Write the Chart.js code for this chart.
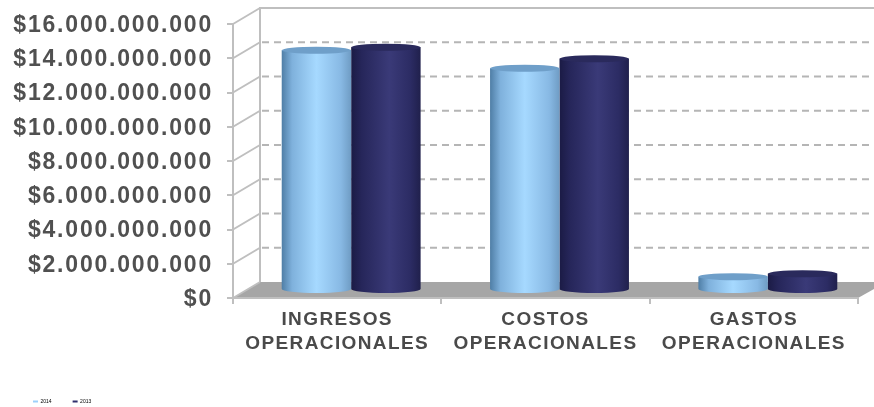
<!DOCTYPE html>
<html>
<head>
<meta charset="utf-8">
<style>html,body{margin:0;padding:0;background:#fff}canvas{display:block}</style>
<script src="https://cdn.jsdelivr.net/npm/chart.js@4"></script>
</head>
<body>
<canvas id="c" width="874" height="407"></canvas>
<script>
const categories = [["INGRESOS","OPERACIONALES"],["COSTOS","OPERACIONALES"],["GASTOS","OPERACIONALES"]];
const seriesNames = ["2014","2013"];
const values2014 = [14000000000,12950000000,780000000];
const values2013 = [14170000000,13500000000,950000000];
const lightStops = [[0,"#4f7ea6"],[0.15,"#7fb1dc"],[0.5,"#a6d9ff"],[0.85,"#88b9e4"],[1,"#6f9cc4"]];
const darkStops = [[0,"#1b1b45"],[0.15,"#26265a"],[0.55,"#3a3a78"],[0.85,"#2c2c64"],[1,"#20204c"]];
const topColors = ["#6f9fc9","#2a2a5c"];
const legendColors = ["#9dd0fa","#2f2f6c"];
const DX = 27, DY = 16, OX = 14, OY = 8, RY = 4, RT = 3.5;
const WALL = "#bfbfbf", FLOOR = "#a6a6a6";

function grad(ctx, l, r, stops){
  const g = ctx.createLinearGradient(l,0,r,0);
  stops.forEach(s => g.addColorStop(s[0], s[1]));
  return g;
}
function barFill(stops, side){
  return c => {
    const x = c.chart.scales.x;
    if(!x || !c.chart.chartArea) return stops[2][1];
    const w = (x.right-x.left)/categories.length*0.6667/2;
    const cx = x.getPixelForValue(c.dataIndex);
    const l = side===0 ? cx-w : cx;
    return grad(c.chart.ctx, l, l+w, stops);
  };
}
const scene = {
  id:"scene",
  afterLayout(chart){
    if(chart.legend && !chart.legend._shifted){ chart.legend.top += 7; chart.legend.bottom += 7; chart.legend._shifted = true; }
    [["y","1.8px",1.5],["x","1.4px",0]].forEach(([id,sp,dy])=>{
      const s = chart.scales[id];
      if(s && !s._wrapped){
        const orig = s.drawLabels.bind(s);
        s.drawLabels = a => { const c = chart.ctx; c.save(); c.letterSpacing = sp; c.translate(0,dy); orig(a); c.restore(); };
        s._wrapped = true;
      }
    });
  },
  beforeDraw(chart){
    const {ctx, chartArea:a, scales:{y}} = chart;
    const W = chart.width;
    ctx.save();
    // floor
    ctx.fillStyle = FLOOR;
    ctx.beginPath();
    ctx.moveTo(a.left,a.bottom);
    ctx.lineTo(a.left+DX,a.bottom-DY);
    ctx.lineTo(W,a.bottom-DY);
    ctx.lineTo(W,a.bottom-DY+7);
    ctx.lineTo(a.right,a.bottom);
    ctx.closePath();
    ctx.fill();
    // dashed back wall lines
    ctx.strokeStyle = "#b5b5b5"; ctx.lineWidth = 2; ctx.setLineDash([7,5]);
    y.ticks.forEach(t=>{
      if(t.value===0 || t.value===y.max) return;
      const p = y.getPixelForValue(t.value)-DY;
      ctx.beginPath(); ctx.moveTo(a.left+DX+2,p); ctx.lineTo(W,p); ctx.stroke();
    });
    ctx.setLineDash([]);
    // side wall diagonals and back wall frame
    ctx.strokeStyle = WALL;
    y.ticks.forEach(t=>{
      const p = y.getPixelForValue(t.value);
      ctx.beginPath(); ctx.moveTo(a.left,p); ctx.lineTo(a.left+DX,p-DY); ctx.stroke();
    });
    ctx.beginPath();
    ctx.moveTo(a.left+DX,a.bottom-DY); ctx.lineTo(a.left+DX,a.top-DY); ctx.lineTo(W,a.top-DY);
    ctx.stroke();
    ctx.restore();
  },
  beforeDatasetsDraw(chart){
    chart.ctx.save();
    chart.ctx.translate(OX,-OY);
  },
  afterDatasetsDraw(chart){
    const ctx = chart.ctx;
    [0,1].forEach(i=>{
      const stops = i===0 ? lightStops : darkStops;
      chart.getDatasetMeta(i).data.forEach(el=>{
        const w = el.width/2;
        ctx.fillStyle = grad(ctx, el.x-w, el.x+w, stops);
        ctx.beginPath();
        ctx.ellipse(el.x, el.base, w, RY, 0, 0, Math.PI);
        ctx.fill();
        ctx.fillStyle = topColors[i];
        ctx.beginPath();
        ctx.ellipse(el.x, el.y, w, RT, 0, 0, Math.PI*2);
        ctx.fill();
      });
    });
    ctx.restore();
  }
};
new Chart(document.getElementById("c"),{
  type:"bar",
  data:{
    labels:categories,
    datasets:[
      {label:seriesNames[0],data:values2014,backgroundColor:barFill(lightStops,0),clip:false},
      {label:seriesNames[1],data:values2013,backgroundColor:barFill(darkStops,1),clip:false}
    ]
  },
  plugins:[scene],
  options:{
    responsive:false,
    animation:false,
    devicePixelRatio:1,
    layout:{padding:{left:12,right:16,top:24,bottom:0}},
    datasets:{bar:{barPercentage:1,categoryPercentage:0.6667,borderWidth:0}},
    plugins:{
      tooltip:{enabled:false},
      legend:{
        position:"bottom",
        align:"start",
        onClick:null,
        labels:{
          boxWidth:5,boxHeight:2,padding:21,color:"#595959",
          font:{family:"Liberation Sans",size:5},
          generateLabels:()=>seriesNames.map((n,i)=>({text:n,fillStyle:legendColors[i],strokeStyle:legendColors[i],lineWidth:0,datasetIndex:i}))
        }
      }
    },
    scales:{
      x:{
        grid:{drawOnChartArea:false,color:WALL,tickLength:6,tickColor:WALL,lineWidth:2,offset:true},
        border:{color:WALL,width:2},
        ticks:{color:"#4a4a4a",padding:4,maxRotation:0,autoSkip:false,font:{family:"Liberation Sans",size:19,weight:"bold",lineHeight:1.26}},
        afterFit(s){s.height=73;}
      },
      y:{
        min:0,max:16000000000,
        grid:{drawOnChartArea:false,color:WALL,tickLength:6,tickColor:WALL,lineWidth:2},
        border:{color:WALL,width:2},
        ticks:{
          stepSize:2000000000,color:"#505050",padding:14,
          font:{family:"Liberation Sans",size:23,weight:"bold"},
          callback:v=>"$"+String(Math.round(v)).replace(/\B(?=(\d{3})+$)/g,".")
        },
        afterFit(s){s.width=221;s.paddingTop=0;}
      }
    }
  }
});
</script>
</body>
</html>
